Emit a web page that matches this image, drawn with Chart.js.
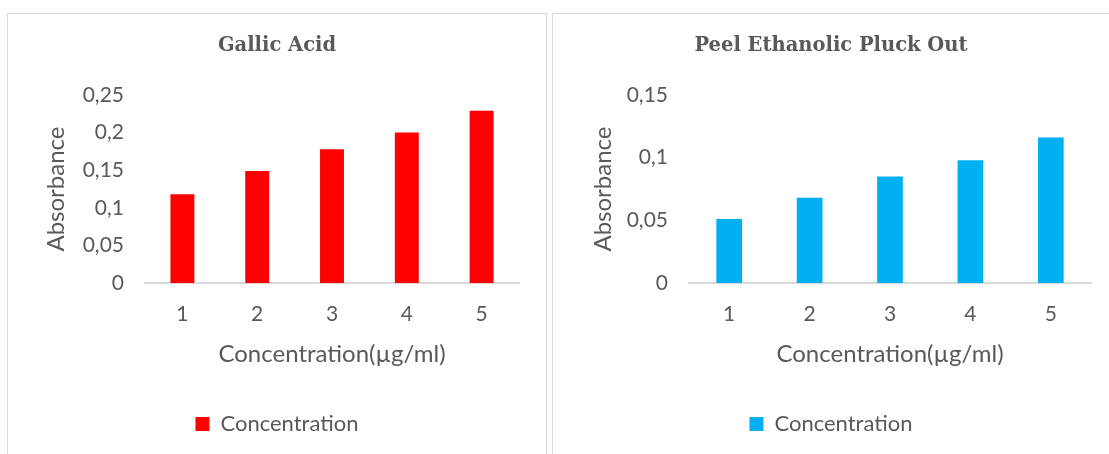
<!DOCTYPE html>
<html>
<head>
<meta charset="utf-8">
<script src="https://cdn.jsdelivr.net/npm/chart.js@4"></script>
<style>
  html, body { margin: 0; padding: 0; background: #fff; }
  body { width: 1109px; height: 454px; position: relative; overflow: hidden; }
  .panel { position: absolute; top: 13px; border: 1px solid #d9d9d9; background: #fff; }
  #panelLeft { left: 7px; width: 538px; height: 450px; }
  #panelRight { left: 552px; width: 560px; height: 450px; }
</style>
</head>
<body>
<div class="panel" id="panelLeft"><canvas id="gallic"></canvas></div>
<div class="panel" id="panelRight"><canvas id="peel"></canvas></div>
<script>
const categories = ['1', '2', '3', '4', '5'];
const gallicValues = [0.118, 0.149, 0.178, 0.200, 0.229];
const peelValues = [0.051, 0.068, 0.085, 0.098, 0.116];
const gallicTicks = ['0', '0,05', '0,1', '0,15', '0,2', '0,25'];
const peelTicks = ['0', '0,05', '0,1', '0,15'];

const textColor = '#595959';
const sansFont = 'Lato, "Open Sans", sans-serif';

function makeChart(id, title, values, tickLabels, yMax, color, w, h, opts) {
    const canvas = document.getElementById(id);
    canvas.width = w;
    canvas.height = h;
    canvas.style.width = w + 'px';
    canvas.style.height = h + 'px';

    return new Chart(canvas, {
        type: 'bar',
        data: {
            labels: categories,
            datasets: [{
                label: 'Concentration',
                data: values,
                backgroundColor: color,
                borderWidth: 0,
                barPercentage: 0.32,
                categoryPercentage: 1
            }]
        },
        options: {
            responsive: false,
            animation: false,
            layout: { padding: { left: 0, right: 0, top: 0, bottom: 9 } },
            plugins: {
                title: {
                    display: true,
                    text: title,
                    color: textColor,
                    font: { family: '"DejaVu Serif", serif', size: 19.5, weight: 'bold' },
                    padding: { top: 20, bottom: 37.6 }
                },
                legend: {
                    position: 'bottom',
                    labels: {
                        color: textColor,
                        font: { family: sansFont, size: 22 },
                        boxWidth: 14,
                        boxHeight: 14,
                        padding: 10
                    }
                },
                tooltip: { enabled: false }
            },
            scales: {
                x: {
                    grid: { display: false, drawTicks: false },
                    border: { color: '#d9d9d9', width: 2 },
                    ticks: { color: textColor, font: { family: sansFont, size: 21 }, padding: 19 },
                    title: {
                        display: true,
                        text: 'Concentration(µg/ml)',
                        color: textColor,
                        font: { family: sansFont, size: 24 },
                        padding: { top: 0, bottom: 34.6 }
                    },
                    afterFit: function (scale) { scale.height = 120; }
                },
                y: {
                    min: 0,
                    max: yMax,
                    grid: { display: false, drawTicks: false },
                    border: { display: false },
                    ticks: {
                        stepSize: 0.05,
                        color: textColor,
                        font: { family: sansFont, size: 21 },
                        padding: 21,
                        callback: function (value, index) { return tickLabels[index]; }
                    },
                    title: {
                        display: true,
                        text: 'Absorbance',
                        color: textColor,
                        font: { family: sansFont, size: 24 },
                        padding: { top: opts.yTitlePad, bottom: 0 }
                    },
                    afterFit: function (scale) { scale.width = opts.yWidth; }
                },
                // empty spacer on the right so title and legend centre on the whole panel
                spacer: {
                    position: 'right',
                    grid: { display: false, drawTicks: false },
                    border: { display: false },
                    ticks: { display: false },
                    afterFit: function (scale) { scale.width = opts.padRight; }
                }
            }
        }
    });
}

makeChart('gallic', 'Gallic Acid', gallicValues, gallicTicks, 0.25, '#ff0000', 538, 440,
    { padRight: 27, yWidth: 137, yTitlePad: 34 });
makeChart('peel', 'Peel Ethanolic Pluck Out', peelValues, peelTicks, 0.15, '#00b0f0', 556, 440,
    { padRight: 18, yWidth: 136, yTitlePad: 36 });
</script>
</body>
</html>
